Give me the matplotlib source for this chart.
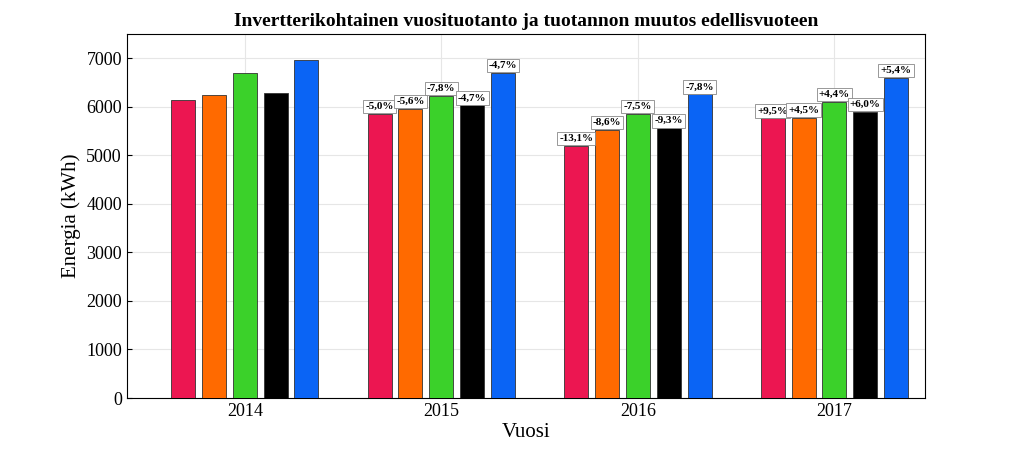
import matplotlib
matplotlib.use("Agg")
import matplotlib.pyplot as plt
import numpy as np

years = ["2014", "2015", "2016", "2017"]
colors = ["#EC1651", "#FF6A00", "#3BD12A", "#000000", "#0A64F5"]
values = [
    [6150, 6250, 6700, 6280, 6970],
    [5850, 5960, 6230, 6030, 6700],
    [5200, 5530, 5850, 5560, 6260],
    [5760, 5780, 6100, 5900, 6600],
]
changes = [
    None,
    ["-5,0%", "-5,6%", "-7,8%", "-4,7%", "-4,7%"],
    ["-13,1%", "-8,6%", "-7,5%", "-9,3%", "-7,8%"],
    ["+9,5%", "+4,5%", "+4,4%", "+6,0%", "+5,4%"],
]

plt.rcParams["font.family"] = "Liberation Serif"
fig = plt.figure(figsize=(10.23, 4.51), dpi=100)
ax = fig.add_axes([0.124, 0.1175, 0.78, 0.807])
x = np.arange(1, 5)
pitch = 0.157
w = 0.122
for i in range(5):
    xs = x + (i - 2) * pitch
    vals = [v[i] for v in values]
    ax.bar(xs, vals, width=w, color=colors[i], edgecolor="#333333", linewidth=0.6, zorder=3)
    for g in range(4):
        if changes[g] is not None:
            ax.text(xs[g], vals[g] + 60, changes[g][i], ha="center", va="bottom",
                    fontsize=8, fontweight="bold", zorder=4,
                    bbox=dict(boxstyle="square,pad=0.2", fc="white", ec="#888888", lw=0.6))
ax.set_xlim(0.4, 4.46)
ax.set_ylim(0, 7500)
ax.set_yticks(range(0, 7001, 1000))
ax.set_xticks(x)
ax.set_xticklabels(years)
ax.tick_params(labelsize=13, direction="in")
ax.grid(True, color="#e6e6e6", linewidth=0.8, zorder=0)
ax.set_xlabel("Vuosi", fontsize=15, labelpad=2)
ax.set_ylabel("Energia (kWh)", fontsize=15)
ax.set_title("Invertterikohtainen vuosituotanto ja tuotannon muutos edellisvuoteen",
             fontsize=14, fontweight="bold", pad=6)
fig.savefig("out.png", dpi=100)
